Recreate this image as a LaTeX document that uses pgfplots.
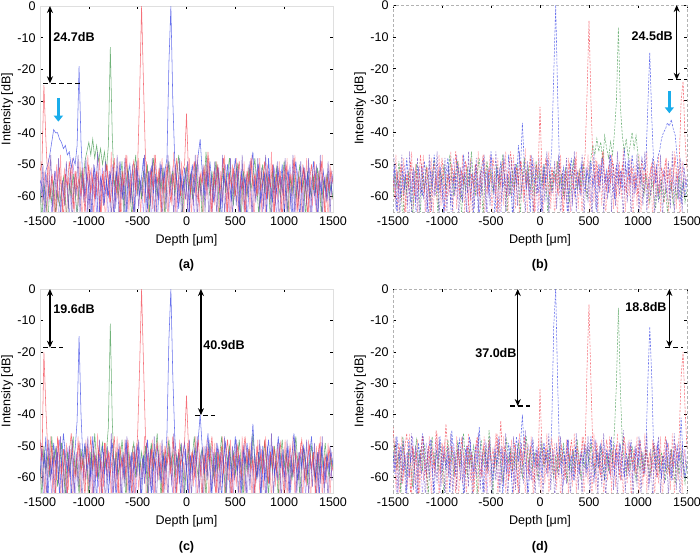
\documentclass[border=0pt]{standalone}
\usepackage{fontspec}
\setmainfont{Liberation Sans}
\usepackage{pgfplots}
\usepackage{pgfplotstable}
\pgfplotsset{compat=1.18}
\usetikzlibrary{arrows.meta}
\definecolor{cR}{rgb}{0.95,0.25,0.3}
\definecolor{cG}{rgb}{0.25,0.6,0.3}
\definecolor{cB}{rgb}{0.2,0.25,0.9}
\definecolor{cP}{rgb}{0.62,0.5,0.95}
\definecolor{cQ}{rgb}{1,0.5,0.55}
\definecolor{cK}{rgb}{0.42,0.28,0.72}
\definecolor{cyanA}{rgb}{0.1,0.68,0.92}
\tikzset{
 tr/.style={line width=0.55bp, opacity=0.75},
 dtr/.style={line width=0.55bp, opacity=0.75, dash pattern=on 2.2bp off 1.3bp},
 dbarrow/.style={{Stealth[length=7bp,width=6bp]}-{Stealth[length=7bp,width=6bp]}, line width=1.3bp},
 lvl/.style={line width=1.2bp, dash pattern=on 5bp off 3bp},
 cyarrow/.style={-{Triangle[length=6bp,width=9bp]}, line width=3.5bp, cyanA},
}
\pgfplotsset{
 panel/.style={scale only axis, anchor=south west,
  xmin=-1500,xmax=1500,ymin=-65,ymax=0,
  xtick={-1500,-1000,-500,0,500,1000,1500},
  xticklabels={-1500,-1000,-500,0,500,1000,1500},
  ytick={-60,-50,-40,-30,-20,-10,0},
  yticklabels={-60,-50,-40,-30,-20,-10,0},
  tick align=inside, major tick length=3bp,
  tick style={black,line width=0.5bp},
  xlabel={Depth [μm]}, ylabel={Intensity [dB]},
  xlabel style={yshift=-1bp}, ylabel style={yshift=-4bp},
  clip mode=individual},
 solidpanel/.style={axis line style={gray!25}},
 dashpanel/.style={axis line style={gray!60, dash pattern=on 3bp off 2bp}},
}
\pgfplotstableread{
x R G B P
-1500 -52 -58 -55 -60
-1480 -50 -67 -57 -54
-1460 -25 -56 -61 -70
-1440 -42 -60 -52 -58
-1420 -55 -69 -50 -62
-1400 -61 -57 -47 -55
-1380 -54 -62 -43 -66
-1360 -58 -55 -39 -57
-1340 -68 -66 -40 -52
-1320 -56 -59 -40 -61
-1300 -51 -63 -42 -70
-1280 -59 -58 -43 -56
-1260 -67 -54 -45 -60
-1240 -53 -61 -44 -53
-1220 -57 -70 -47 -59
-1200 -49 -56 -46 -66
-1180 -55 -60 -51 -57
-1160 -64 -53 -48 -50
-1140 -52 -59 -50 -58
-1120 -58 -66 -44 -69
-1100 -54 -57 -19 -55
-1080 -60 -52 -43 -61
-1060 -51 -58 -56 -54
-1040 -66 -49 -60 -59
-1020 -56 -46 -53 -68
-1000 -50 -43 -58 -55
-980 -59 -47 -67 -52
-960 -54 -42 -55 -60
-940 -61 -48 -51 -57
-920 -52 -44 -59 -66
-900 -57 -49 -69 -54
-880 -66 -45 -54 -58
-860 -53 -50 -57 -51
-840 -58 -46 -62 -60
-820 -50 -52 -55 -56
-800 -55 -44 -60 -67
-780 -62 -13 -53 -55
-760 -56 -41 -58 -50
-740 -48 -57 -67 -58
-720 -59 -53 -52 -62
-700 -53 -60 -57 -54
-680 -68 -55 -49 -59
-660 -52 -49 -61 -53
-640 -57 -65 -55 -69
-620 -47 -56 -70 -57
-600 -55 -51 -54 -52
-580 -60 -58 -50 -61
-560 -53 -67 -59 -55
-540 -49 -53 -65 -58
-520 -58 -47 -56 -51
-500 -50 -59 -52 -60
-480 -28 -55 -60 -54
-460 0 -61 -54 -57
-440 -25 -52 -48 -66
-420 -48 -57 -58 -53
-400 -55 -50 -64 -59
-380 -61 -66 -55 -52
-360 -52 -56 -51 -68
-340 -58 -48 -59 -56
-320 -47 -54 -53 -50
-300 -56 -60 -69 -58
-280 -51 -53 -57 -61
-260 -66 -58 -50 -54
-240 -54 -51 -56 -59
-220 -59 -69 -52 -52
-200 -50 -55 -48 -57
-180 -57 -49 -18 -65
-160 -62 -57 0 -55
-140 -53 -52 -30 -51
-120 -58 -60 -49 -59
-100 -48 -54 -55 -68
-80 -55 -47 -64 -56
-60 -60 -56 -53 -52
-40 -52 -66 -58 -60
-20 -50 -55 -51 -54
0 -34 -51 -57 -58
20 -52 -58 -68 -61
40 -59 -53 -55 -53
60 -54 -61 -50 -57
80 -49 -56 -59 -67
100 -57 -50 -54 -55
120 -62 -59 -47 -50
140 -53 -54 -42 -58
160 -56 -68 -52 -62
180 -51 -57 -60 -55
200 -58 -46 -53 -60
220 -46 -55 -57 -52
240 -55 -60 -49 -58
260 -66 -52 -56 -69
280 -52 -58 -62 -54
300 -57 -49 -55 -59
320 -50 -54 -51 -51
340 -59 -67 -58 -57
360 -54 -56 -68 -62
380 -48 -51 -53 -55
400 -56 -59 -57 -50
420 -65 -53 -50 -58
440 -53 -48 -56 -67
460 -57 -56 -61 -54
480 -51 -63 -54 -59
500 -60 -54 -48 -56
520 -54 -50 -55 -52
540 -49 -57 -66 -63
560 -58 -68 -52 -57
580 -55 -52 -58 -53
600 -67 -56 -54 -60
620 -52 -60 -69 -55
640 -56 -51 -57 -50
660 -48 -58 -51 -58
680 -57 -54 -46 -68
700 -53 -48 -59 -56
720 -60 -57 -55 -52
740 -51 -66 -50 -59
760 -58 -55 -62 -55
780 -55 -50 -56 -66
800 -49 -59 -53 -54
820 -61 -53 -67 -58
840 -54 -57 -48 -52
860 -57 -68 -57 -60
880 -50 -52 -62 -56
900 -66 -58 -54 -51
920 -53 -51 -59 -67
940 -58 -56 -52 -57
960 -52 -60 -57 -54
980 -68 -55 -50 -59
1000 -55 -49 -66 -53
1020 -50 -57 -55 -61
1040 -59 -66 -52 -55
1060 -53 -54 -58 -50
1080 -57 -59 -68 -58
1100 -48 -53 -54 -67
1120 -56 -61 -49 -56
1140 -65 -56 -57 -52
1160 -54 -50 -67 -59
1180 -59 -58 -55 -55
1200 -51 -55 -51 -66
1220 -57 -67 -58 -54
1240 -66 -52 -53 -57
1260 -55 -57 -60 -51
1280 -50 -60 -56 -68
1300 -58 -54 -49 -56
1320 -53 -59 -57 -63
1340 -60 -51 -67 -53
1360 -55 -56 -54 -58
1380 -49 -66 -59 -55
1400 -57 -55 -52 -61
1420 -67 -58 -57 -54
1440 -54 -53 -61 -59
1460 -58 -60 -55 -52
1480 -52 -56 -59 -57
1500 -56 -61 -53 -60
}\tA
\pgfplotstableread{
x R G B P
-1500 -54 -60 -57 -51
-1480 -61 -53 -50 -58
-1460 -52 -57 -67 -55
-1440 -58 -49 -55 -62
-1420 -50 -56 -60 -53
-1400 -56 -68 -52 -57
-1380 -66 -54 -58 -50
-1360 -53 -59 -48 -59
-1340 -57 -52 -56 -69
-1320 -49 -58 -62 -54
-1300 -55 -67 -53 -58
-1280 -60 -55 -57 -52
-1260 -52 -50 -68 -61
-1240 -58 -57 -51 -55
-1220 -47 -65 -56 -59
-1200 -54 -53 -60 -51
-1180 -59 -58 -49 -57
-1160 -51 -51 -55 -66
-1140 -56 -56 -68 -54
-1120 -67 -61 -52 -49
-1100 -53 -54 -57 -56
-1080 -50 -48 -47 -60
-1060 -57 -57 -54 -53
-1040 -52 -66 -59 -58
-1020 -59 -52 -51 -50
-1000 -48 -56 -56 -57
-980 -55 -50 -66 -67
-960 -61 -58 -53 -55
-940 -53 -54 -48 -51
-920 -57 -47 -57 -59
-900 -50 -55 -69 -54
-880 -56 -60 -52 -48
-860 -46 -53 -58 -56
-840 -54 -49 -50 -61
-820 -59 -56 -55 -53
-800 -52 -66 -61 -57
-780 -56 -54 -47 -50
-760 -49 -58 -54 -58
-740 -55 -51 -59 -68
-720 -67 -57 -52 -55
-700 -53 -46 -56 -49
-680 -57 -55 -66 -56
-660 -50 -60 -50 -52
-640 -54 -53 -55 -60
-620 -60 -48 -68 -54
-600 -52 -56 -53 -58
-580 -47 -66 -48 -51
-560 -55 -54 -57 -57
-540 -59 -49 -52 -67
-520 -51 -57 -60 -53
-500 -56 -52 -46 -47
-480 -48 -59 -55 -56
-460 -54 -55 -66 -59
-440 -66 -50 -51 -52
-420 -53 -58 -56 -57
-400 -57 -53 -49 -68
-380 -49 -47 -58 -54
-360 -55 -56 -53 -48
-340 -60 -67 -60 -55
-320 -52 -54 -47 -60
-300 -46 -59 -55 -53
-280 -55 -52 -67 -57
-260 -58 -57 -51 -50
-240 -51 -50 -56 -58
-220 -56 -55 -44 -54
-200 -49 -66 -52 -61
-180 -54 -53 -37 -55
-160 -60 -48 -50 -49
-140 -52 -56 -58 -57
-120 -57 -51 -53 -52
-100 -47 -58 -66 -59
-80 -55 -53 -48 -54
-60 -66 -60 -56 -50
-40 -50 -49 -51 -56
-20 -54 -55 -59 -67
0 -32 -52 -54 -53
20 -53 -57 -67 -58
40 -58 -50 -50 -51
60 -48 -56 -56 -57
80 -55 -66 -48 -62
100 -60 -53 -54 -54
120 -51 -58 -45 -59
140 -56 -52 -22 -52
160 -53 -55 0 -57
180 -59 -49 -28 -50
200 -49 -57 -52 -56
220 -55 -53 -58 -61
240 -66 -60 -51 -53
260 -52 -51 -55 -58
280 -57 -56 -66 -52
300 -50 -62 -53 -57
320 -54 -54 -48 -67
340 -58 -49 -56 -55
360 -48 -55 -60 -50
380 -56 -58 -52 -58
400 -52 -52 -57 -54
420 -59 -57 -50 -60
440 -51 -50 -55 -53
460 -47 -55 -59 -57
480 -28 -61 -52 -51
500 -5 -53 -56 -56
520 -30 -48 -49 -62
540 -50 -44 -57 -54
560 -55 -47 -53 -58
580 -49 -42 -66 -52
600 -57 -46 -50 -57
620 -52 -43 -55 -50
640 -46 -49 -48 -55
660 -54 -41 -56 -61
680 -58 -45 -52 -53
700 -51 -48 -59 -58
720 -56 -43 -47 -52
740 -49 -47 -54 -56
760 -54 -40 -61 -60
780 -60 -30 -50 -54
800 -52 -7 -56 -50
820 -57 -32 -52 -57
840 -50 -41 -58 -53
860 -55 -46 -45 -59
880 -59 -42 -53 -55
900 -52 -48 -49 -51
920 -56 -44 -56 -58
940 -51 -40 -47 -54
960 -57 -45 -53 -60
980 -53 -41 -58 -56
1000 -60 -47 -50 -52
1020 -54 -52 -55 -57
1040 -49 -56 -48 -53
1060 -56 -60 -52 -59
1080 -52 -53 -50 -55
1100 -58 -58 -32 -61
1120 -53 -62 -15 -56
1140 -50 -55 -35 -51
1160 -57 -59 -50 -57
1180 -52 -64 -56 -53
1200 -55 -57 -48 -60
1220 -59 -61 -46 -55
1240 -51 -55 -42 -58
1260 -54 -62 -40 -52
1280 -49 -58 -39 -57
1300 -56 -65 -37 -61
1320 -52 -60 -38 -55
1340 -58 -56 -36 -59
1360 -53 -63 -39 -53
1380 -48 -57 -41 -58
1400 -55 -61 -48 -56
1420 -50 -54 -58 -62
1440 -30 -60 -62 -55
1460 -24 -55 -56 -50
1480 -42 -62 -60 -57
1500 -52 -58 -55 -54
}\tB
\pgfplotstableread{
x R G B P
-1500 -48 -56 -60 -53
-1480 -55 -66 -51 -58
-1460 -20 -50 -57 -67
-1440 -38 -58 -47 -55
-1420 -52 -53 -68 -50
-1400 -58 -60 -54 -57
-1380 -50 -47 -59 -66
-1360 -56 -55 -49 -52
-1340 -67 -51 -56 -59
-1320 -47 -63 -52 -54
-1300 -54 -57 -66 -48
-1280 -59 -49 -55 -56
-1260 -51 -56 -46 -68
-1240 -57 -67 -53 -55
-1220 -66 -52 -58 -51
-1200 -52 -58 -50 -60
-1180 -46 -54 -67 -53
-1160 -55 -47 -55 -57
-1140 -60 -59 -51 -68
-1120 -53 -55 -42 -52
-1100 -49 -66 -15 -58
-1080 -58 -51 -40 -54
-1060 -54 -57 -55 -61
-1040 -67 -50 -49 -50
-1020 -50 -56 -58 -56
-1000 -56 -66 -53 -62
-980 -47 -52 -60 -54
-960 -57 -58 -47 -67
-940 -53 -46 -56 -52
-920 -60 -55 -68 -57
-900 -51 -60 -52 -63
-880 -55 -53 -57 -55
-860 -67 -49 -50 -60
-840 -49 -57 -59 -51
-820 -57 -52 -54 -58
-800 -52 -44 -66 -53
-780 -59 -11 -55 -56
-760 -54 -42 -49 -66
-740 -47 -58 -56 -54
-720 -56 -52 -67 -59
-700 -66 -59 -51 -52
-680 -50 -55 -57 -57
-660 -57 -48 -53 -68
-640 -53 -56 -60 -55
-620 -60 -67 -48 -50
-600 -48 -51 -55 -58
-580 -55 -57 -66 -53
-560 -66 -53 -52 -60
-540 -52 -49 -58 -55
-520 -57 -60 -54 -66
-500 -46 -54 -50 -56
-480 -25 -59 -57 -51
-460 0 -52 -67 -59
-440 -24 -57 -53 -54
-420 -47 -50 -59 -60
-400 -54 -66 -48 -53
-380 -60 -55 -56 -57
-360 -51 -49 -66 -50
-340 -57 -58 -52 -67
-320 -53 -53 -57 -55
-300 -49 -46 -50 -59
-280 -58 -56 -55 -53
-260 -55 -67 -62 -58
-240 -66 -52 -53 -52
-220 -50 -58 -58 -61
-200 -56 -54 -46 -56
-180 -52 -48 -16 -50
-160 -59 -57 0 -57
-140 -47 -52 -28 -66
-120 -55 -60 -47 -54
-100 -66 -53 -56 -59
-80 -51 -57 -52 -53
-60 -56 -50 -67 -60
-40 -53 -55 -54 -55
-20 -49 -66 -49 -52
0 -34 -56 -57 -58
20 -50 -51 -66 -54
40 -57 -58 -53 -61
60 -52 -53 -58 -56
80 -60 -47 -51 -52
100 -55 -55 -56 -67
120 -48 -60 -48 -63
140 -56 -54 -40 -55
160 -67 -51 -50 -51
180 -53 -57 -59 -58
200 -58 -66 -53 -53
220 -51 -55 -46 -60
240 -55 -49 -57 -56
260 -47 -56 -66 -50
280 -56 -60 -52 -59
300 -66 -52 -58 -54
320 -52 -58 -50 -61
340 -57 -53 -55 -57
360 -50 -47 -67 -52
380 -59 -56 -54 -58
400 -54 -66 -49 -63
420 -48 -54 -57 -55
440 -56 -50 -52 -51
460 -67 -57 -60 -57
480 -53 -52 -55 -66
500 -57 -59 -47 -54
520 -50 -55 -58 -59
540 -55 -48 -53 -53
560 -60 -56 -66 -57
580 -52 -67 -51 -50
600 -47 -53 -56 -58
620 -56 -58 -49 -67
640 -51 -51 -57 -55
660 -58 -57 -53 -52
680 -54 -46 -43 -59
700 -66 -55 -55 -54
720 -50 -60 -60 -61
740 -56 -52 -52 -56
760 -53 -58 -67 -51
780 -59 -54 -50 -58
800 -48 -49 -61 -55
820 -55 -57 -54 -66
840 -62 -66 -48 -53
860 -52 -53 -56 -57
880 -57 -58 -51 -50
900 -51 -50 -59 -59
920 -58 -56 -54 -55
940 -54 -67 -47 -61
960 -49 -54 -57 -53
980 -56 -48 -52 -58
1000 -66 -57 -60 -54
1020 -53 -52 -55 -60
1040 -57 -59 -50 -56
1060 -50 -55 -66 -52
1080 -55 -61 -53 -59
1100 -59 -53 -46 -55
1120 -52 -47 -56 -67
1140 -57 -56 -61 -54
1160 -53 -66 -52 -58
1180 -48 -54 -57 -51
1200 -56 -51 -50 -57
1220 -61 -57 -55 -66
1240 -54 -62 -59 -55
1260 -50 -55 -53 -50
1280 -57 -50 -47 -58
1300 -52 -56 -56 -54
1320 -66 -61 -60 -60
1340 -55 -53 -52 -56
1360 -49 -58 -67 -51
1380 -56 -52 -50 -59
1400 -62 -57 -55 -55
1420 -53 -49 -61 -62
1440 -57 -56 -53 -53
1460 -51 -60 -58 -57
1480 -55 -54 -52 -60
1500 -58 -57 -56 -54
}\tC
\pgfplotstableread{
x R G B P
-1500 -44 -55 -52 -58
-1480 -52 -49 -59 -51
-1460 -58 -57 -47 -66
-1440 -49 -52 -55 -61
-1420 -55 -66 -50 -53
-1400 -62 -47 -58 -49
-1380 -51 -54 -53 -57
-1360 -46 -59 -66 -52
-1340 -54 -51 -48 -60
-1320 -66 -56 -55 -54
-1300 -50 -63 -51 -47
-1280 -57 -53 -58 -56
-1260 -52 -48 -67 -51
-1240 -67 -56 -49 -58
-1220 -53 -51 -55 -53
-1200 -47 -58 -46 -66
-1180 -55 -50 -53 -55
-1160 -60 -55 -59 -49
-1140 -50 -66 -52 -57
-1120 -56 -53 -48 -52
-1100 -51 -47 -56 -59
-1080 -58 -56 -66 -54
-1060 -45 -52 -51 -48
-1040 -53 -58 -55 -56
-1020 -59 -50 -47 -66
-1000 -49 -55 -58 -53
-980 -55 -66 -52 -50
-960 -43 -53 -57 -57
-940 -52 -48 -50 -52
-920 -57 -56 -66 -59
-900 -50 -51 -45 -54
-880 -54 -59 -54 -49
-860 -66 -54 -59 -56
-840 -51 -49 -52 -51
-820 -56 -57 -48 -58
-800 -48 -52 -56 -53
-780 -53 -46 -66 -60
-760 -59 -55 -51 -55
-740 -50 -60 -55 -50
-720 -56 -51 -47 -57
-700 -52 -57 -53 -52
-680 -67 -50 -58 -61
-660 -51 -55 -50 -54
-640 -47 -66 -56 -49
-620 -55 -53 -44 -56
-600 -60 -48 -54 -59
-580 -50 -56 -66 -53
-560 -54 -51 -52 -48
-540 -59 -58 -57 -66
-520 -48 -45 -49 -52
-500 -55 -54 -55 -60
-480 -51 -66 -61 -54
-460 -57 -52 -51 -50
-440 -46 -57 -56 -57
-420 -53 -50 -47 -62
-400 -42 -56 -53 -55
-380 -56 -61 -66 -51
-360 -50 -53 -52 -58
-340 -55 -48 -59 -53
-320 -61 -55 -49 -59
-300 -52 -51 -55 -50
-280 -58 -58 -66 -56
-260 -49 -52 -54 -61
-240 -54 -57 -47 -53
-220 -66 -49 -55 -48
-200 -51 -55 -50 -57
-180 -56 -60 -40 -52
-160 -47 -53 -52 -59
-140 -54 -47 -58 -54
-120 -59 -56 -66 -50
-100 -50 -51 -53 -56
-80 -55 -58 -48 -61
-60 -62 -52 -56 -53
-40 -52 -55 -51 -57
-20 -57 -61 -57 -51
0 -32 -54 -52 -58
20 -51 -49 -60 -54
40 -56 -57 -49 -49
60 -50 -52 -55 -56
80 -58 -56 -51 -60
100 -53 -50 -58 -53
120 -48 -55 -43 -57
140 -56 -60 -12 -52
160 -61 -53 0 -59
180 -52 -58 -30 -55
200 -57 -51 -53 -50
220 -50 -55 -59 -57
240 -55 -49 -51 -62
260 -60 -56 -56 -54
280 -51 -61 -48 -49
300 -55 -53 -57 -56
320 -48 -58 -53 -60
340 -54 -52 -61 -52
360 -59 -57 -50 -57
380 -50 -48 -55 -51
400 -56 -55 -59 -58
420 -53 -61 -52 -53
440 -47 -53 -56 -60
460 -52 -57 -50 -55
480 -25 -51 -58 -50
500 -5 -56 -53 -56
520 -30 -49 -47 -61
540 -52 -55 -55 -54
560 -57 -59 -60 -48
580 -49 -52 -52 -57
600 -55 -57 -57 -52
620 -60 -50 -49 -59
640 -51 -56 -55 -55
660 -56 -61 -61 -50
680 -48 -53 -51 -57
700 -54 -58 -56 -53
720 -59 -51 -48 -60
740 -52 -55 -54 -55
760 -57 -45 -59 -49
780 -50 -30 -52 -56
800 -55 -6 -57 -52
820 -61 -32 -50 -58
840 -52 -49 -55 -54
860 -47 -55 -60 -60
880 -55 -59 -52 -53
900 -58 -53 -57 -49
920 -50 -57 -49 -56
940 -56 -50 -55 -61
960 -51 -56 -58 -54
980 -59 -61 -51 -50
1000 -53 -54 -56 -57
1020 -48 -58 -48 -52
1040 -55 -52 -54 -58
1060 -60 -57 -59 -55
1080 -51 -51 -52 -50
1100 -56 -55 -30 -57
1120 -52 -60 -12 -62
1140 -58 -54 -28 -54
1160 -49 -50 -52 -59
1180 -55 -57 -57 -53
1200 -60 -53 -50 -49
1220 -51 -58 -55 -56
1240 -56 -52 -60 -60
1260 -53 -56 -53 -54
1280 -47 -61 -58 -51
1300 -55 -54 -49 -57
1320 -59 -59 -55 -53
1340 -52 -51 -61 -59
1360 -57 -57 -52 -55
1380 -50 -62 -57 -50
1400 -54 -55 -50 -56
1420 -47 -59 -55 -52
1440 -28 -52 -41 -59
1460 -20 -57 -54 -55
1480 -38 -62 -60 -51
1500 -51 -55 -56 -57
}\tD
\pgfplotstableread{
x Q K
-1490 -49 -62
-1470 -63 -50
-1450 -52 -66
-1430 -67 -53
-1410 -48 -60
-1390 -61 -47
-1370 -53 -65
-1350 -70 -52
-1330 -50 -61
-1310 -62 -48
-1290 -47 -68
-1270 -65 -55
-1250 -51 -63
-1230 -68 -49
-1210 -54 -64
-1190 -60 -51
-1170 -48 -69
-1150 -66 -54
-1130 -52 -60
-1110 -63 -47
-1090 -49 -66
-1070 -69 -52
-1050 -55 -62
-1030 -61 -48
-1010 -47 -65
-990 -64 -53
-970 -51 -70
-950 -67 -50
-930 -53 -61
-910 -60 -46
-890 -48 -67
-870 -65 -55
-850 -52 -63
-830 -70 -49
-810 -50 -60
-790 -62 -52
-770 -46 -68
-750 -66 -51
-730 -54 -64
-710 -61 -47
-690 -49 -69
-670 -68 -54
-650 -52 -61
-630 -63 -48
-610 -47 -66
-590 -65 -53
-570 -53 -62
-550 -69 -50
-530 -50 -67
-510 -60 -49
-490 -48 -64
-470 -66 -55
-450 -54 -60
-430 -62 -47
-410 -49 -70
-390 -67 -52
-370 -51 -63
-350 -64 -48
-330 -47 -66
-310 -70 -54
-290 -53 -61
-270 -61 -49
-250 -48 -68
-230 -65 -51
-210 -52 -64
-190 -68 -47
-170 -50 -60
-150 -63 -53
-130 -46 -67
-110 -66 -50
-90 -55 -62
-70 -62 -48
-50 -49 -69
-30 -69 -55
-10 -51 -61
10 -64 -49
30 -48 -66
50 -67 -52
70 -53 -63
90 -60 -47
110 -47 -68
130 -65 -54
150 -52 -60
170 -70 -50
190 -50 -65
210 -61 -48
230 -48 -70
250 -66 -53
270 -54 -62
290 -63 -49
310 -49 -67
330 -68 -51
350 -52 -64
370 -62 -47
390 -47 -66
410 -65 -55
430 -53 -61
450 -69 -48
470 -50 -68
490 -61 -52
510 -48 -63
530 -66 -50
550 -54 -69
570 -63 -47
590 -49 -65
610 -67 -53
630 -51 -60
650 -64 -49
670 -47 -67
690 -70 -54
710 -53 -62
730 -60 -48
750 -48 -66
770 -65 -51
790 -52 -64
810 -68 -47
830 -50 -61
850 -62 -53
870 -46 -68
890 -66 -50
910 -55 -63
930 -61 -49
950 -49 -70
970 -69 -54
990 -51 -60
1010 -64 -48
1030 -48 -67
1050 -67 -52
1070 -53 -64
1090 -60 -47
1110 -47 -66
1130 -65 -55
1150 -52 -61
1170 -70 -49
1190 -50 -68
1210 -61 -51
1230 -48 -63
1250 -66 -48
1270 -54 -69
1290 -63 -53
1310 -49 -60
1330 -68 -50
1350 -52 -65
1370 -62 -47
1390 -47 -67
1410 -65 -54
1430 -53 -62
1450 -69 -49
1470 -50 -66
1490 -61 -52
}\tEac
\pgfplotstableread{
x Q K
-1490 -58 -48
-1470 -47 -64
-1450 -65 -52
-1430 -51 -67
-1410 -62 -47
-1390 -48 -60
-1370 -67 -53
-1350 -52 -63
-1330 -60 -46
-1310 -46 -66
-1290 -64 -51
-1270 -50 -62
-1250 -66 -48
-1230 -53 -68
-1210 -59 -50
-1190 -47 -61
-1170 -68 -54
-1150 -51 -64
-1130 -61 -47
-1110 -48 -66
-1090 -65 -52
-1070 -54 -60
-1050 -62 -46
-1030 -47 -67
-1010 -63 -53
-990 -50 -62
-970 -67 -48
-950 -53 -65
-930 -60 -50
-910 -46 -63
-890 -66 -54
-870 -52 -60
-850 -64 -47
-830 -49 -68
-810 -61 -51
-790 -47 -62
-770 -65 -53
-750 -50 -66
-730 -63 -46
-710 -48 -61
-690 -68 -53
-670 -53 -64
-650 -60 -48
-630 -46 -66
-610 -64 -52
-590 -52 -60
-570 -67 -47
-550 -49 -65
-530 -59 -51
-510 -47 -63
-490 -65 -54
-470 -53 -59
-450 -61 -46
-430 -48 -67
-410 -66 -51
-390 -50 -62
-370 -63 -47
-350 -46 -65
-330 -68 -53
-310 -52 -60
-290 -60 -48
-270 -47 -66
-250 -64 -50
-230 -51 -63
-210 -66 -46
-190 -49 -59
-170 -62 -52
-150 -45 -66
-130 -65 -49
-110 -54 -61
-90 -61 -47
-70 -48 -67
-50 -67 -54
-30 -50 -60
-10 -63 -48
10 -47 -65
30 -66 -51
50 -52 -62
70 -59 -46
90 -46 -67
110 -64 -53
130 -51 -59
150 -68 -49
170 -49 -64
190 -60 -47
210 -47 -68
230 -65 -52
250 -53 -61
270 -62 -48
290 -48 -66
310 -67 -50
330 -51 -63
350 -61 -46
370 -46 -65
390 -64 -54
410 -52 -60
430 -67 -47
450 -49 -67
470 -60 -51
490 -47 -62
510 -65 -49
530 -53 -68
550 -62 -46
570 -48 -64
590 -66 -52
610 -50 -59
630 -63 -48
650 -46 -66
670 -68 -53
690 -52 -61
710 -59 -47
730 -47 -65
750 -64 -50
770 -51 -63
790 -67 -46
810 -49 -60
830 -61 -52
850 -45 -67
870 -65 -49
890 -54 -62
910 -60 -48
930 -48 -68
950 -67 -53
970 -50 -59
990 -63 -47
1010 -47 -66
1030 -66 -51
1050 -52 -63
1070 -59 -46
1090 -46 -65
1110 -64 -54
1130 -51 -60
1150 -68 -48
1170 -49 -67
1190 -60 -50
1210 -47 -62
1230 -65 -47
1250 -53 -68
1270 -62 -52
1290 -48 -59
1310 -67 -49
1330 -51 -64
1350 -61 -46
1370 -46 -66
1390 -64 -53
1410 -52 -61
1430 -68 -48
1450 -49 -65
1470 -60 -51
1490 -53 -57
}\tEbd
\begin{document}
\fontsize{12.6}{14}\selectfont
\begin{tikzpicture}
\useasboundingbox (0,0) rectangle (700bp,554bp);
% (a)
\begin{axis}[panel, solidpanel, at={(40bp,342bp)}, width=293bp, height=206bp]
\addplot[tr, cP] table[x=x,y=P]{\tA};
\addplot[tr, cQ] table[x=x,y=Q]{\tEac};
\addplot[tr, cG] table[x=x,y=G]{\tA};
\addplot[tr, cK] table[x=x,y=K]{\tEac};
\addplot[tr, cB] table[x=x,y=B]{\tA};
\addplot[tr, cR] table[x=x,y=R]{\tA};
\draw[dbarrow] (axis cs:-1398,0) -- (axis cs:-1398,-24.4);
\draw[lvl] (axis cs:-1466,-24.4) -- (axis cs:-1073,-24.4);
\node[anchor=west, inner sep=0pt, font=\bfseries] at (axis cs:-1364,-9.7) {24.7dB};
\draw[cyarrow] (axis cs:-1312,-29) -- (axis cs:-1312,-36.5);
\end{axis}
% (b)
\begin{axis}[panel, dashpanel, at={(393bp,342bp)}, width=294bp, height=207bp]
\addplot[dtr, cP] table[x=x,y=P]{\tB};
\addplot[dtr, cQ] table[x=x,y=Q]{\tEbd};
\addplot[dtr, cG] table[x=x,y=G]{\tB};
\addplot[dtr, cK] table[x=x,y=K]{\tEbd};
\addplot[dtr, cB] table[x=x,y=B]{\tB};
\addplot[dtr, cR] table[x=x,y=R]{\tB};
\draw[dbarrow] (axis cs:1395,0) -- (axis cs:1395,-23.5);
\draw[lvl] (axis cs:1309,-23.5) -- (axis cs:1497,-23.5);
\node[anchor=east, inner sep=0pt, font=\bfseries] at (axis cs:1357,-9.7) {24.5dB};
\draw[cyarrow] (axis cs:1320,-27) -- (axis cs:1320,-34);
\end{axis}
% (c)
\begin{axis}[panel, solidpanel, at={(40bp,61bp)}, width=293bp, height=204bp]
\addplot[tr, cP] table[x=x,y=P]{\tC};
\addplot[tr, cQ] table[x=x,y=K]{\tEac};
\addplot[tr, cG] table[x=x,y=G]{\tC};
\addplot[tr, cK] table[x=x,y=Q]{\tEac};
\addplot[tr, cB] table[x=x,y=B]{\tC};
\addplot[tr, cR] table[x=x,y=R]{\tC};
\draw[dbarrow] (axis cs:-1398,0) -- (axis cs:-1398,-18.7);
\draw[lvl] (axis cs:-1466,-18.7) -- (axis cs:-1261,-18.7);
\node[anchor=west, inner sep=0pt, font=\bfseries] at (axis cs:-1364,-6.5) {19.6dB};
\draw[dbarrow] (axis cs:148,0) -- (axis cs:148,-40.2);
\draw[lvl] (axis cs:87,-40.2) -- (axis cs:292,-40.2);
\node[anchor=west, inner sep=0pt, font=\bfseries] at (axis cs:172,-17.8) {40.9dB};
\end{axis}
% (d)
\begin{axis}[panel, dashpanel, at={(393bp,61bp)}, width=294bp, height=204bp]
\addplot[dtr, cP] table[x=x,y=P]{\tD};
\addplot[dtr, cQ] table[x=x,y=K]{\tEbd};
\addplot[dtr, cG] table[x=x,y=G]{\tD};
\addplot[dtr, cK] table[x=x,y=Q]{\tEbd};
\addplot[dtr, cB] table[x=x,y=B]{\tD};
\addplot[dtr, cR] table[x=x,y=R]{\tD};
\draw[dbarrow] (axis cs:-227,0) -- (axis cs:-227,-37.3);
\draw[lvl] (axis cs:-306,-37.3) -- (axis cs:-102,-37.3);
\node[anchor=east, inner sep=0pt, font=\bfseries] at (axis cs:-238,-20.3) {37.0dB};
\draw[dbarrow] (axis cs:1320,0) -- (axis cs:1320,-18.6);
\draw[lvl] (axis cs:1276,-18.6) -- (axis cs:1462,-18.6);
\node[anchor=east, inner sep=0pt, font=\bfseries] at (axis cs:1293,-5.8) {18.8dB};
\end{axis}
\node[font=\bfseries] at (186.5bp,289bp) {(a)};
\node[font=\bfseries] at (540bp,289bp) {(b)};
\node[font=\bfseries] at (186.5bp,7bp) {(c)};
\node[font=\bfseries] at (540bp,7bp) {(d)};
\end{tikzpicture}
\end{document}
